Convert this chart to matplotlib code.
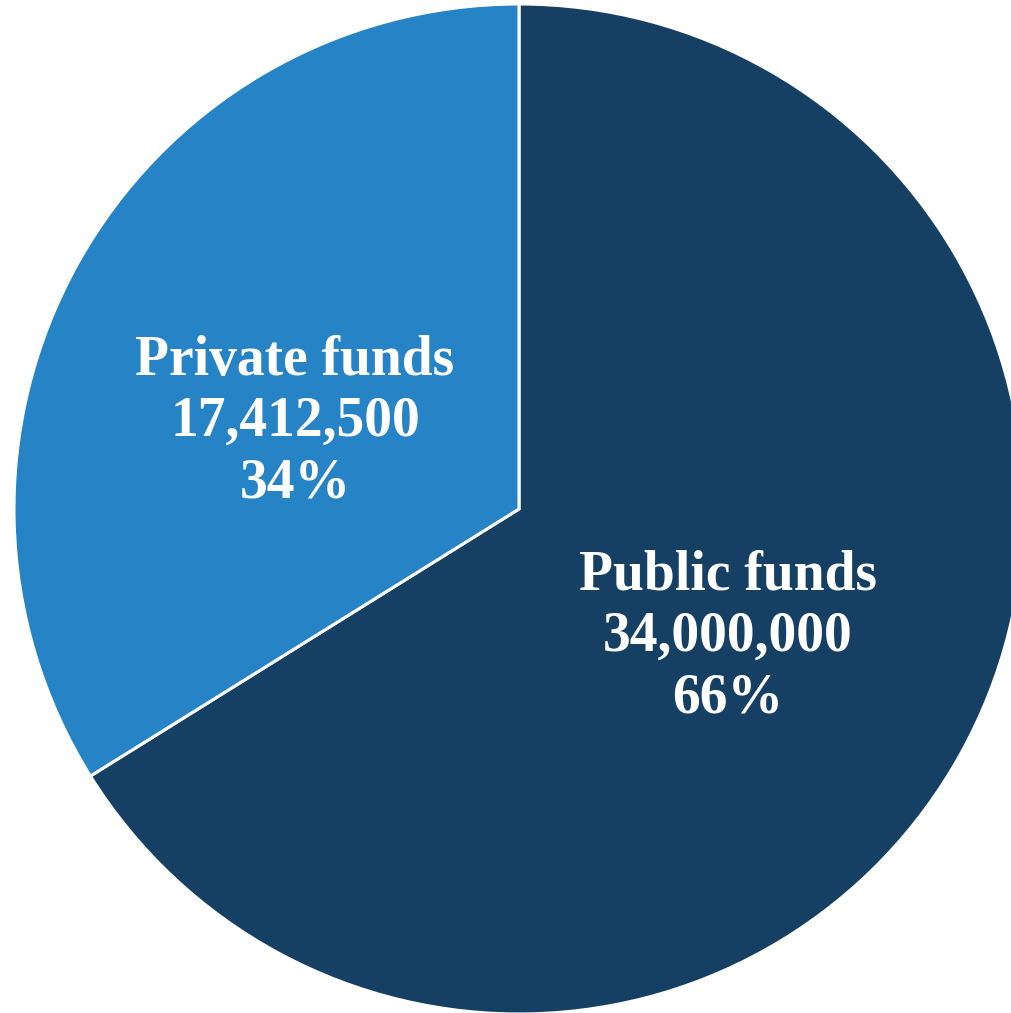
import matplotlib
matplotlib.use("Agg")
import matplotlib.pyplot as plt

categories = ["Public funds", "Private funds"]
values = [34000000, 17412500]
colors = ["#154063", "#2683C6"]

W, H = 1012, 1013
fig = plt.figure(figsize=(W / 100, H / 100), dpi=100)
ax = fig.add_axes([0, 0, 1, 1])
cx, cy, R = 519, 509, 505
wedges, _ = ax.pie(values, colors=colors, startangle=90, counterclock=False,
                   radius=1, center=(0, 0),
                   wedgeprops=dict(edgecolor="white", linewidth=2.2))
ax.set_xlim(-cx / R, (W - cx) / R)
ax.set_ylim(-(H - cy) / R, cy / R)
ax.set_aspect("auto")
ax.axis("off")

total = sum(values)
label_px = [(728, 637), (295, 422)]
for cat, v, (px, py) in zip(categories, values, label_px):
    txt = f"{cat}\n{v:,.0f}\n{v / total * 100:.0f}%"
    ax.text((px - cx) / R, (cy - py) / R, txt, ha="center", va="center",
            color="white", fontsize=40, fontweight="bold",
            family="Liberation Serif", linespacing=1.23)

fig.savefig("out.png", dpi=100, facecolor="white")
